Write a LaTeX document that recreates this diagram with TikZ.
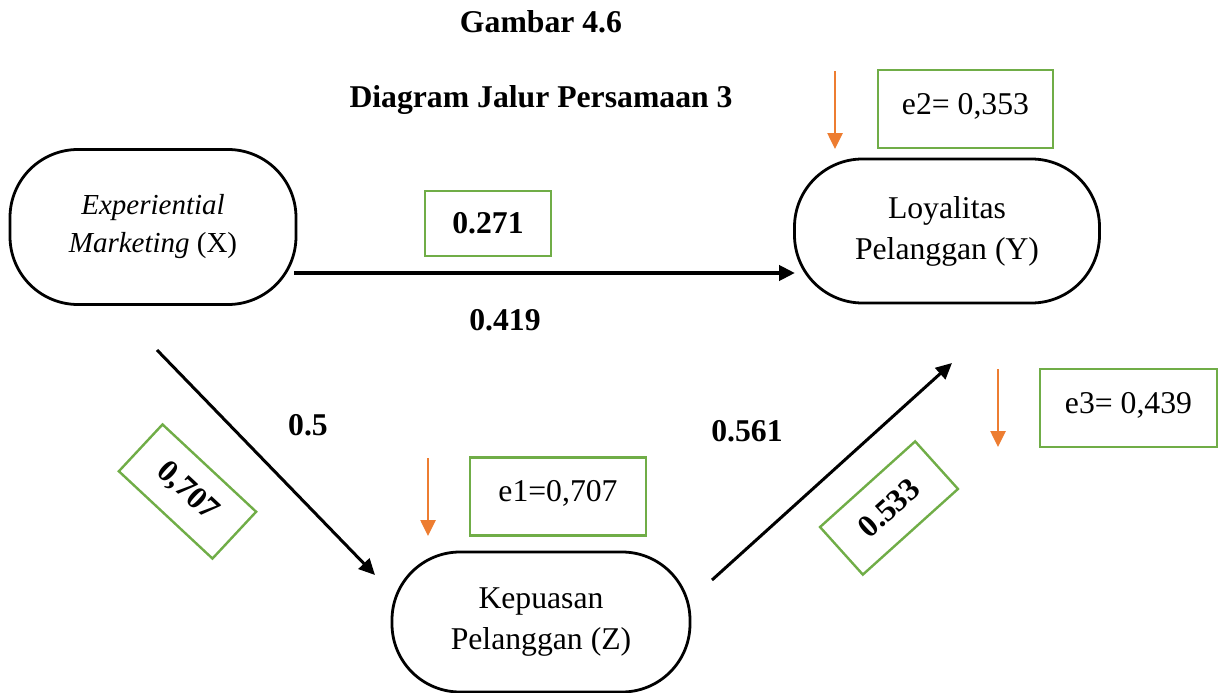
\documentclass[tikz,border=0pt]{standalone}
\usepackage{fontspec}
\setmainfont{Liberation Serif}
\usetikzlibrary{arrows.meta,calc}
\definecolor{boxgreen}{HTML}{70AD47}
\definecolor{errorange}{HTML}{ED7D31}
\begin{document}
\begin{tikzpicture}[x=1pt,y=-1pt,
  every node/.style={font=\fontsize{31.7}{41}\selectfont},
  var/.style={draw, line width=2.8pt, rounded corners=68pt, align=center, inner sep=0pt},
  coef/.style={draw=boxgreen, line width=2.4pt, inner sep=0pt, font=\fontsize{31.7}{38}\selectfont\bfseries},
  errbox/.style={draw=boxgreen, line width=2.4pt, inner sep=0pt, text height=44pt, text depth=34pt},
  lbl/.style={font=\fontsize{31.7}{38}\selectfont\bfseries},
  link/.style={line width=3pt, -{Triangle[length=16pt,width=15pt]}},
  err/.style={draw=errorange, line width=2.6pt, -{Triangle[length=16pt,width=15pt]}, color=errorange}]
\useasboundingbox (0,0) rectangle (1224,693);

% titles
\node[lbl] (title1) at (541,22) {Gambar 4.6};
\node[lbl] (title2) at (541,100) {Diagram Jalur Persamaan 3};

% variables
\node[var, minimum width=286pt, minimum height=155pt, font=\fontsize{29}{38}\selectfont] (X) at (153,227)
  {\itshape Experiential\\\textit{Marketing} (X)};
\node[var, minimum width=305pt, minimum height=144pt] (Y) at (947,231)
  {Loyalitas\\Pelanggan (Y)};
\node[var, minimum width=298pt, minimum height=140pt] (Z) at (541,622)
  {Kepuasan\\Pelanggan (Z)};

% connector end points
\coordinate (xy1) at (294,273);
\coordinate (xy2) at (795,273);
\coordinate (xz1) at (157,350);
\coordinate (xz2) at (375,575);
\coordinate (zy1) at (712,580);
\coordinate (zy2) at (952,363);

\draw[link, line width=4pt] (xy1) -- (xy2);
\draw[link] (xz1) -- (xz2);
\draw[link] (zy1) -- (zy2);

% coefficients
\node[coef, minimum width=126pt, minimum height=65pt] (c271) at (488,223.5) {0.271};
\node[lbl] (c419) at (505,320) {0.419};
\node[lbl] (c05) at (308,425) {0.5};
\node[lbl] (c561) at (747,431) {0.561};
\node[coef, minimum width=128pt, minimum height=64pt, rotate=-43] (c707) at (187.5,491.5) {0,707};
\node[coef, minimum width=128pt, minimum height=64pt, rotate=42] (c533) at (889,508) {0.533};

% error terms
\node[errbox, minimum width=175pt] (e2) at (965.5,109) {e2= 0,353};
\node[errbox, minimum width=176pt] (e1) at (558,496.5) {e1=0,707};
\node[errbox, minimum width=177pt] (e3) at (1128.5,408) {e3= 0,439};

\coordinate (e2a) at (835,71);
\coordinate (e2b) at (835,149);
\coordinate (e1a) at (428,458);
\coordinate (e1b) at (428,536);
\coordinate (e3a) at (998,369);
\coordinate (e3b) at (998,447);
\draw[err] (e2a) -- (e2b);
\draw[err] (e1a) -- (e1b);
\draw[err] (e3a) -- (e3b);
\end{tikzpicture}
\end{document}
